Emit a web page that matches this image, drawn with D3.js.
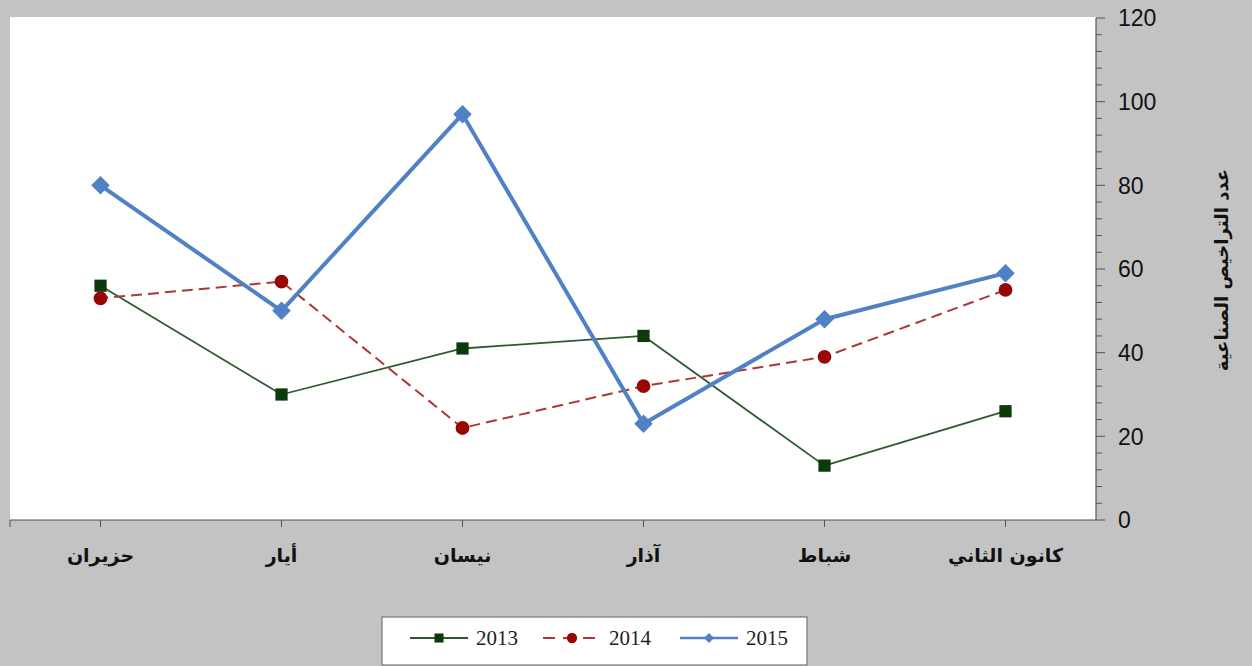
<!DOCTYPE html>
<html>
<head>
<meta charset="utf-8">
<script src="https://cdn.jsdelivr.net/npm/d3@7"></script>
<style>
  html, body { margin: 0; padding: 0; background: #c3c3c3; }
  svg { display: block; }
</style>
</head>
<body>
<svg id="chart" width="1252" height="666"></svg>
<script>
// months, January first (drawn right to left)
const months = ['كانون الثاني', 'شباط', 'آذار', 'نيسان', 'أيار', 'حزيران'];
const years = ['2013', '2014', '2015'];
const values2013 = [26, 13, 44, 41, 30, 56];
const values2014 = [55, 39, 32, 22, 57, 53];
const values2015 = [59, 48, 23, 97, 50, 80];
const yTicks = [0, 20, 40, 60, 80, 100, 120];
const axisTitle = 'عدد التراخيص الصناعية';

const svg = d3.select('#chart');
const W = 1252, H = 666;
const plot = { left: 10, right: 1096, top: 17, bottom: 520 };

// background + plot area
svg.append('rect').attr('width', W).attr('height', H).attr('fill', '#c3c3c3');
svg.append('rect')
    .attr('x', plot.left).attr('y', plot.top)
    .attr('width', plot.right - plot.left).attr('height', plot.bottom - plot.top)
    .attr('fill', '#ffffff');

// scales - reversed so January sits at the right
const x = d3.scalePoint()
    .domain(months)
    .range([plot.right, plot.left])
    .padding(0.5);
const y = d3.scaleLinear().domain([0, 120]).range([plot.bottom, plot.top + 1]);

// right y axis with minor ticks
const yAxisG = svg.append('g').attr('transform', `translate(${plot.right},0)`);
yAxisG.append('line')
    .attr('y1', y(120)).attr('y2', y(0))
    .attr('stroke', '#555').attr('stroke-width', 1.2);
yAxisG.selectAll('line.minor')
    .data(d3.range(0, 121, 4))
    .join('line')
    .attr('class', 'minor')
    .attr('x1', 0).attr('x2', d => d % 20 === 0 ? 9 : 6)
    .attr('y1', d => y(d)).attr('y2', d => y(d))
    .attr('stroke', '#555').attr('stroke-width', 1);
yAxisG.selectAll('text')
    .data(yTicks)
    .join('text')
    .attr('x', 22).attr('y', d => y(d))
    .attr('dy', '0.36em')
    .attr('font-family', 'Liberation Sans, Arial, sans-serif')
    .attr('font-size', 23)
    .attr('fill', '#111')
    .text(d => d);

// axis title
svg.append('text')
    .attr('transform', 'translate(1222,270) rotate(-90)')
    .attr('text-anchor', 'middle')
    .attr('dy', '0.35em')
    .attr('font-family', 'DejaVu Sans, Noto Sans, sans-serif')
    .attr('font-size', 18)
    .attr('font-weight', 'bold')
    .attr('fill', '#111')
    .text(axisTitle);

// bottom x axis
const xAxisG = svg.append('g');
xAxisG.append('line')
    .attr('x1', plot.left).attr('x2', plot.right)
    .attr('y1', plot.bottom).attr('y2', plot.bottom)
    .attr('stroke', '#555').attr('stroke-width', 1.2);
xAxisG.selectAll('line.tick')
    .data(months)
    .join('line')
    .attr('class', 'tick')
    .attr('x1', d => x(d)).attr('x2', d => x(d))
    .attr('y1', plot.bottom).attr('y2', plot.bottom + 7)
    .attr('stroke', '#555');
xAxisG.append('line')
    .attr('x1', plot.left).attr('x2', plot.left)
    .attr('y1', plot.bottom).attr('y2', plot.bottom + 7)
    .attr('stroke', '#555');
xAxisG.selectAll('text')
    .data(months)
    .join('text')
    .attr('x', d => x(d)).attr('y', 555)
    .attr('text-anchor', 'middle')
    .attr('dy', '0.35em')
    .attr('font-family', 'DejaVu Sans, Noto Sans, sans-serif')
    .attr('font-size', 19)
    .attr('font-weight', 'bold')
    .attr('fill', '#111')
    .text(d => d);

// series styles (diamond = square turned 45deg)
const series = [
    { name: years[0], values: values2013, color: '#2f5a2f', mark: '#0c3a0c', width: 1.8, dash: null, shape: d3.symbolSquare, size: 150, rot: 0 },
    { name: years[1], values: values2014, color: '#b03535', mark: '#990606', width: 2, dash: '11,6', shape: d3.symbolCircle, size: 150, rot: 0 },
    { name: years[2], values: values2015, color: '#4f81c4', mark: '#4f81c4', width: 4, dash: null, shape: d3.symbolSquare, size: 170, rot: 45 }
];

const line = d3.line()
    .x((d, i) => x(months[i]))
    .y(d => y(d));

series.forEach(s => {
    const g = svg.append('g');
    g.append('path')
        .attr('d', line(s.values))
        .attr('fill', 'none')
        .attr('stroke', s.color)
        .attr('stroke-width', s.width)
        .attr('stroke-dasharray', s.dash)
        .attr('stroke-linejoin', 'round');
    g.selectAll('path.mark')
        .data(s.values)
        .join('path')
        .attr('class', 'mark')
        .attr('transform', (d, i) => `translate(${x(months[i])},${y(d)}) rotate(${s.rot})`)
        .attr('d', d3.symbol().type(s.shape).size(s.size))
        .attr('fill', s.mark);
});

// legend
const legend = svg.append('g');
legend.append('rect')
    .attr('x', 382).attr('y', 617)
    .attr('width', 425).attr('height', 48)
    .attr('fill', '#ffffff')
    .attr('stroke', '#777').attr('stroke-width', 1.2);
const legendX = [410, 543, 680];
series.forEach((s, i) => {
    const lx = legendX[i];
    const ly = 638;
    legend.append('line')
        .attr('x1', lx).attr('x2', lx + 58)
        .attr('y1', ly).attr('y2', ly)
        .attr('stroke', s.color)
        .attr('stroke-width', Math.min(s.width, 2.5))
        .attr('stroke-dasharray', s.dash ? '12,8' : null);
    legend.append('path')
        .attr('transform', `translate(${lx + 29},${ly}) rotate(${s.rot})`)
        .attr('d', d3.symbol().type(s.shape).size(s.rot ? s.size * 0.3 : s.size * 0.55))
        .attr('fill', s.mark);
    legend.append('text')
        .attr('x', lx + 66).attr('y', ly)
        .attr('dy', '0.35em')
        .attr('font-family', 'Liberation Serif, Times New Roman, serif')
        .attr('font-size', 21)
        .attr('fill', '#222')
        .text(s.name);
});
</script>
</body>
</html>
